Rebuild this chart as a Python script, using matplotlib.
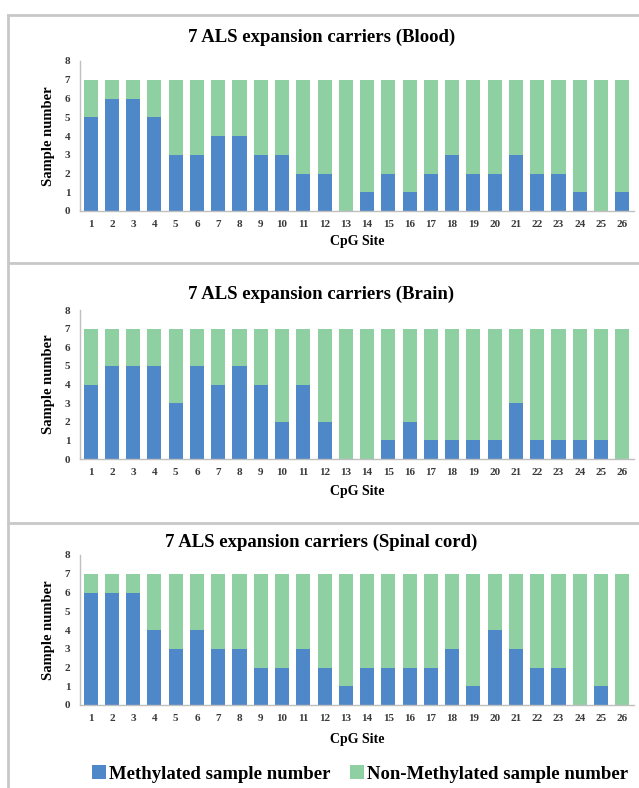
import matplotlib.pyplot as plt
import numpy as np

plt.rcParams['font.family'] = ['Liberation Serif', 'DejaVu Serif']

sites = list(range(1, 27))
total = 7
blood = [5, 6, 6, 5, 3, 3, 4, 4, 3, 3, 2, 2, 0, 1, 2, 1, 2, 3, 2, 2, 3, 2, 2, 1, 0, 1]
brain = [4, 5, 5, 5, 3, 5, 4, 5, 4, 2, 4, 2, 0, 0, 1, 2, 1, 1, 1, 1, 3, 1, 1, 1, 1, 0]
spinal = [6, 6, 6, 4, 3, 4, 3, 3, 2, 2, 3, 2, 1, 2, 2, 2, 2, 3, 1, 4, 3, 2, 2, 0, 1, 0]
titles = ['7 ALS expansion carriers (Blood)',
          '7 ALS expansion carriers (Brain)',
          '7 ALS expansion carriers (Spinal cord)']

blue = '#4F88C8'
green = '#8FD0A3'
W, H = 639, 788

fig = plt.figure(figsize=(W / 100, H / 100), dpi=100)

# pixel layout of each panel: (y of 0, y of 8, title y, xlabel y)
panels = [(211, 61, 37, 241), (459, 310, 294, 492), (705, 555, 542, 739)]
ax_left, ax_right = 80, 634


def fy(py):
    return 1 - py / H


for data, title, (y0, y8, ty, ly) in zip([blood, brain, spinal], titles, panels):
    ax = fig.add_axes([ax_left / W, fy(y0), (ax_right - ax_left) / W, (y0 - y8) / H])
    meth = np.array(data)
    non = total - meth
    ax.bar(sites, meth, width=0.66, color=blue, label='Methylated sample number')
    ax.bar(sites, non, width=0.66, bottom=meth, color=green,
           label='Non-Methylated sample number')
    ax.set_xlim(0.5, 26.55)
    ax.set_ylim(0, 8)
    ax.set_yticks(range(0, 9))
    ax.set_xticks(sites)
    ax.tick_params(length=0, labelsize=8, colors='#3A3A3A')
    ax.tick_params(axis='x', pad=6.5)
    ax.tick_params(axis='y', pad=7)
    for lab in ax.get_xticklabels() + ax.get_yticklabels():
        lab.set_fontweight('bold')
    for s in ['top', 'right']:
        ax.spines[s].set_visible(False)
    for s in ['left', 'bottom']:
        ax.spines[s].set_color('#BFBFBF')
        ax.spines[s].set_linewidth(1.0)
    ax.set_ylabel('Sample number', fontsize=10.5, fontweight='bold', labelpad=7)
    fig.text(0.5 + 2 / W, fy(ty), title, ha='center', va='center',
             fontsize=13.5, fontweight='bold')
    fig.text((ax_left + ax_right) / 2 / W, fy(ly), 'CpG Site', ha='center',
             va='center', fontsize=10, fontweight='bold')

handles, labels = ax.get_legend_handles_labels()
fig.legend(handles, labels, loc='center', bbox_to_anchor=(360 / W, fy(774)),
           ncol=2, frameon=False, handlelength=0.75,
           handleheight=0.75, handletextpad=0.2, columnspacing=1.0,
           prop={'weight': 'bold', 'size': 13.5})

# panel frames
frame = dict(color='#C8C8C8', linewidth=2, transform=fig.transFigure)
fig.add_artist(plt.Line2D([8 / W, 8 / W], [fy(15), 0], **frame))
for py in [15, 263, 523]:
    fig.add_artist(plt.Line2D([8 / W, 1], [fy(py), fy(py)], **frame))

fig.savefig('out.png', dpi=100)
